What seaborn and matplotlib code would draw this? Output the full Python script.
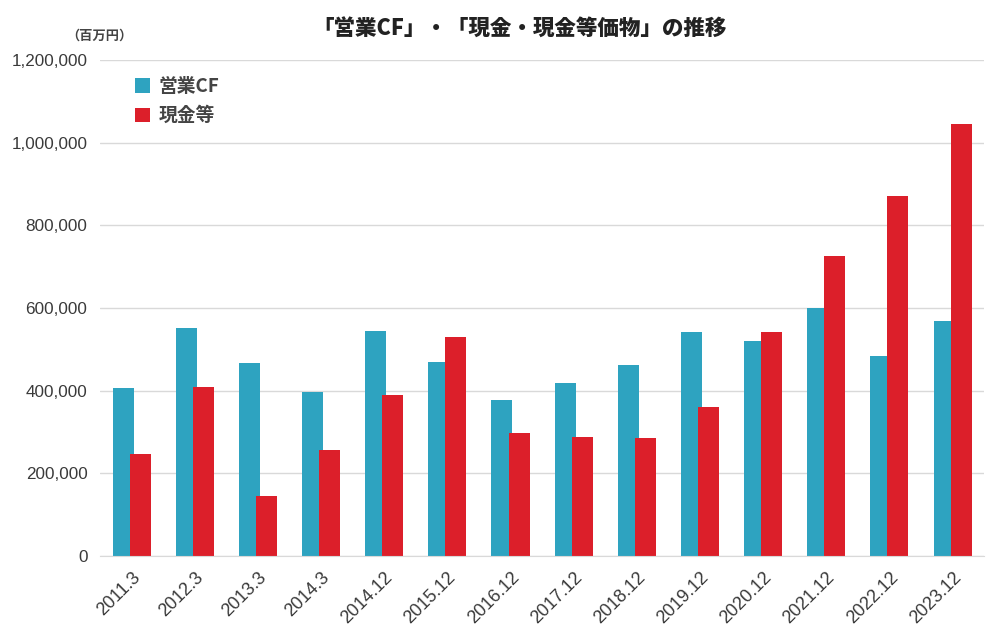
import pandas as pd
import seaborn as sns
import matplotlib.pyplot as plt
from matplotlib.ticker import FuncFormatter

periods = ['2011.3', '2012.3', '2013.3', '2014.3', '2014.12', '2015.12', '2016.12',
           '2017.12', '2018.12', '2019.12', '2020.12', '2021.12', '2022.12', '2023.12']
operating_cf = [406000, 552000, 467000, 397000, 544000, 469000, 377000,
                419000, 462000, 542000, 520000, 600000, 484000, 569000]
cash = [247000, 409000, 145000, 256000, 390000, 530000, 298000,
        288000, 285000, 360000, 542000, 726000, 871000, 1045000]
series_names = ['営業CF', '現金等']
colors = ['#2ea3c0', '#dc1f2a']

df = pd.DataFrame({'period': periods, series_names[0]: operating_cf, series_names[1]: cash})
long_df = df.melt(id_vars='period', var_name='series', value_name='value')

sns.set_style('white')
plt.rcParams['font.family'] = ['Liberation Sans', 'Noto Sans CJK JP', 'DejaVu Sans']

fig = plt.figure(figsize=(10.07, 6.42), dpi=100)
ax = fig.add_axes([0.0993, 0.134, 0.878, 0.7725])

sns.barplot(data=long_df, x='period', y='value', hue='series', hue_order=series_names,
            palette=colors, width=0.54, saturation=1, linewidth=0, ax=ax, legend=True)

# widen bars a little so they overlap, like the original
for p in ax.patches:
    c = p.get_x() + p.get_width() / 2
    p.set_width(0.333)
    p.set_x(c - 0.333 / 2)
    p.set_edgecolor('none')

ax.set_ylim(0, 1200000)
ax.set_xlim(-0.5, len(periods) - 0.5)
ax.set_yticks(range(0, 1200001, 200000))
ax.yaxis.set_major_formatter(FuncFormatter(lambda v, _: f'{int(v):,}'))
ax.grid(axis='y', color='#d9d9d9', linewidth=1)
ax.set_axisbelow(True)
for s in ['top', 'right', 'left']:
    ax.spines[s].set_visible(False)
ax.spines['bottom'].set_color('#d9d9d9')
ax.set_xlabel('')
ax.set_ylabel('')
ax.tick_params(axis='both', length=0, colors='#3a3a3a')
ax.tick_params(axis='y', pad=9, labelsize=12.3)
ax.tick_params(axis='x', pad=9, labelsize=13)
plt.setp(ax.get_xticklabels(), rotation=45, ha='right', rotation_mode='anchor')

leg = ax.legend(loc='upper left', bbox_to_anchor=(0.02, 1.0), frameon=False,
                handlelength=0.8, handleheight=0.8, handletextpad=0.5, labelspacing=0.55,
                prop={'family': ['Noto Sans CJK JP'], 'weight': 'bold', 'size': 13.5})
for t in leg.get_texts():
    t.set_color('#444444')

fig.text(0.516, 0.955, '「営業CF」・「現金・現金等価物」の推移', ha='center', va='center',
         fontsize=15.5, fontweight='heavy', color='#222222', family=['Noto Sans CJK JP'])
fig.text(0.099, 0.945, '（百万円）', ha='center', va='center', fontsize=9.5,
         color='#444444', fontweight='bold', family=['Noto Sans CJK JP'])

fig.savefig('out.png', dpi=100)
